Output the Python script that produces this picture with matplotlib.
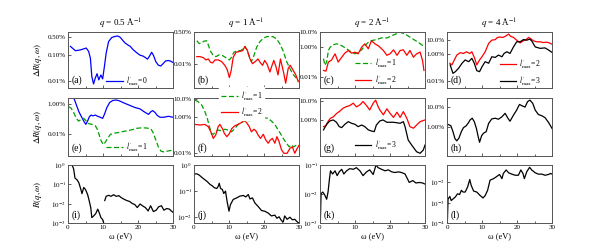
import matplotlib
matplotlib.use("Agg")
import matplotlib.pyplot as plt
from matplotlib.ticker import FixedLocator, NullLocator, MultipleLocator
import numpy as np

plt.rcParams['font.family'] = ['Liberation Serif', 'DejaVu Serif']
plt.rcParams['mathtext.fontset'] = 'stix'

# ---- data (omega in eV, Delta R in %, R absolute) ----
titles = ["0.5", "1", "2", "4"]

# (a) q=0.5, l'max=0
wa0 = [0.7, 2.1, 3.5, 5.2, 5.9, 6.4, 6.8, 7.3, 7.8, 8.3, 8.8, 9.4, 9.9, 10.4, 10.9, 11.6, 12.5, 13.5, 14.2,
       14.9, 15.7, 16.3, 17.1, 17.8, 18.5, 19.2, 19.8, 20.6, 21.4, 22.0, 22.7, 23.3, 23.9, 24.4, 25.1, 25.8,
       26.5, 27.3, 27.9, 28.7, 29.3, 30.0]
va0 = [0.22, 0.15, 0.16, 0.19, 0.14, 0.076, 0.015, 0.0076, 0.013, 0.019, 0.011, 0.017, 0.012, 0.036, 0.12,
       0.34, 0.49, 0.54, 0.56, 0.50, 0.37, 0.30, 0.25, 0.22, 0.17, 0.14, 0.12, 0.10, 0.093, 0.083, 0.070,
       0.093, 0.13, 0.10, 0.056, 0.041, 0.038, 0.049, 0.060, 0.062, 0.059, 0.052]

# (b) q=1
wb1 = [0.8, 1.5, 2.2, 2.8, 3.6, 4.1, 4.7, 5.5, 6.3, 7.2, 8.2, 9.1, 10.1, 10.7, 11.4, 12.3, 13.3, 14.1, 14.6,
       15.2, 15.8, 16.4, 17.1, 17.9, 18.8, 19.8, 20.7, 21.7, 22.6, 23.6, 24.5, 25.5, 26.4, 27.4, 28.3, 29.1, 29.8]
vb1 = [0.17, 0.12, 0.13, 0.16, 0.17, 0.10, 0.047, 0.028, 0.024, 0.030, 0.027, 0.021, 0.016, 0.022, 0.041,
       0.050, 0.050, 0.066, 0.085, 0.050, 0.024, 0.013, 0.027, 0.076, 0.15, 0.23, 0.28, 0.29, 0.28, 0.21,
       0.12, 0.047, 0.014, 0.0055, 0.0027, 0.0018, 0.0012]
wb2 = [0.8, 1.7, 2.7, 3.4, 4.1, 4.7, 5.3, 6.0, 6.9, 7.9, 8.8, 9.5, 10.1, 10.6, 11.2, 12.0, 12.9, 13.9, 14.5,
       15.2, 16.0, 16.7, 17.5, 18.3, 19.0, 19.6, 20.2, 20.9, 21.7, 22.2, 22.8, 23.4, 24.0, 24.7, 25.5, 26.2,
       26.9, 27.5, 28.3, 29.1, 29.8]
vb2 = [0.024, 0.024, 0.021, 0.016, 0.018, 0.012, 0.011, 0.016, 0.016, 0.013, 0.0082, 0.0048, 0.0018, 0.0041,
       0.022, 0.041, 0.045, 0.050, 0.081, 0.055, 0.018, 0.010, 0.013, 0.018, 0.011, 0.0082, 0.015, 0.0092,
       0.0036, 0.0072, 0.015, 0.0072, 0.0025, 0.018, 0.0041, 0.0009, 0.0055, 0.0082, 0.0045, 0.0025, 0.0011]

# (c) q=2
wc1 = [1.0, 1.4, 1.9, 2.4, 2.9, 3.8, 4.8, 6.2, 7.6, 9.0, 10.0, 10.9, 11.9, 12.8, 13.8, 14.7, 16.1, 17.6,
       19.1, 21.0, 22.9, 24.3, 26.2, 28.1, 30.0]
vc1 = [0.16, 0.057, 0.095, 0.57, 0.95, 1.4, 1.6, 1.2, 0.74, 0.44, 0.34, 0.44, 0.63, 1.2, 2.0, 2.6, 3.1, 4.0,
       4.0, 6.3, 9.5, 7.4, 3.8, 2.0, 0.96]
wc2 = [1.0, 1.7, 2.4, 3.3, 4.3, 5.2, 6.2, 7.1, 8.1, 9.0, 10.0, 10.9, 11.9, 12.8, 13.8, 14.7, 15.7, 16.6,
       17.1, 18.1, 19.1, 20.0, 21.0, 22.0, 22.9, 23.8, 24.8, 25.7, 26.7, 27.6, 28.6, 29.3, 29.7]
vc2 = [0.026, 0.023, 0.095, 0.13, 0.34, 0.095, 0.20, 0.38, 0.57, 0.38, 0.44, 0.34, 0.95, 1.6, 0.74, 2.6, 1.6,
       1.2, 0.95, 0.57, 0.27, 0.34, 0.63, 0.27, 0.57, 0.63, 0.27, 0.57, 0.20, 0.34, 0.44, 0.12, 0.026]

# (d) q=4
wd2 = [0.8, 1.4, 2.1, 2.8, 3.8, 4.7, 5.5, 6.5, 7.1, 7.9, 8.5, 9.3, 10.0, 10.9, 11.9, 12.8, 13.8, 14.4, 15.2,
       16.0, 16.6, 17.6, 18.2, 19.0, 19.9, 20.9, 21.8, 22.6, 23.3, 23.9, 24.7, 25.6, 26.6, 27.5, 28.5, 29.2, 30.0]
vd2 = [0.20, 0.15, 0.35, 0.8, 1.2, 1.05, 1.4, 1.05, 1.4, 0.46, 0.15, 0.35, 0.6, 1.4, 5.8, 10, 11, 16, 17,
       16, 19, 28, 19, 16, 10, 6.3, 8.9, 11, 16, 13, 8.9, 7.6, 7.6, 6.7, 7.1, 6.3, 5.1]
wd3 = [0.9, 1.7, 2.4, 3.3, 4.3, 5.2, 6.2, 7.1, 7.8, 8.5, 9.3, 10.0, 10.9, 11.9, 12.8, 13.8, 14.7, 15.7, 16.3,
       17.1, 18.0, 19.0, 19.9, 20.9, 21.8, 22.8, 23.6, 24.2, 25.2, 26.6, 28.0, 29.0, 30.0]
vd3 = [0.15, 0.036, 0.048, 0.085, 0.20, 0.35, 0.26, 0.46, 0.20, 0.057, 0.048, 0.11, 0.26, 0.20, 0.6, 0.54,
       0.8, 0.6, 1.05, 1.4, 1.05, 3.2, 7.6, 7.6, 11, 10, 12, 8.9, 3.2, 2.5, 2.7, 1.9, 1.26]

# (e) q=0.5
we0 = [0.0, 0.9, 1.6, 2.4, 3.1, 4.0, 4.7, 5.1, 5.6, 6.1, 6.6, 7.1, 7.8, 8.5, 9.2, 9.9, 10.4, 11.1, 11.9, 12.8,
       13.8, 14.7, 15.7, 16.6, 17.8, 19.2, 20.6, 21.7, 23.0, 23.7, 24.2, 24.9, 25.5, 26.3, 27.4, 28.7, 30.0]
ve0 = [9.5, 4.7, 2.5, 0.81, 0.30, 0.12, 0.061, 0.045, 0.074, 0.14, 0.18, 0.16, 0.18, 0.15, 0.13, 0.11, 0.20,
       0.55, 1.17, 1.6, 1.7, 1.5, 1.17, 0.96, 0.74, 0.55, 0.45, 0.30, 0.20, 0.30, 0.35, 0.26, 0.17, 0.13,
       0.13, 0.15, 0.13]
we1 = [0.2, 0.9, 1.6, 2.4, 3.0, 3.7, 4.5, 5.2, 5.9, 6.8, 7.8, 8.5, 9.0, 9.5, 10.1, 10.6, 11.3, 12.1, 13.0,
       14.2, 15.4, 16.8, 18.2, 19.7, 21.1, 22.5, 23.7, 24.4, 25.1, 25.8, 26.6, 27.4, 28.7, 30.0]
ve1 = [0.63, 0.50, 0.27, 0.11, 0.074, 0.091, 0.11, 0.074, 0.050, 0.045, 0.037, 0.019, 0.0082, 0.0037,
       0.0022, 0.0030, 0.0055, 0.010, 0.012, 0.013, 0.015, 0.017, 0.020, 0.025, 0.027, 0.026, 0.023, 0.012,
       0.0043, 0.0016, 0.00081, 0.00074, 0.00086, 0.00095]

# (f) q=1
wf1 = [0.3, 1.2, 2.2, 3.1, 3.8, 4.4, 5.0, 5.5, 6.2, 6.9, 7.9, 8.8, 9.8, 10.7, 11.7, 12.6, 13.6, 14.5, 15.5,
       16.4, 17.4, 18.8, 20.2, 21.2, 22.1, 23.1, 23.8, 24.5, 25.5, 26.4, 27.2, 27.8, 28.5, 29.3, 30.0]
vf1 = [8.7, 7.1, 4.7, 2.0, 0.85, 0.29, 0.12, 0.11, 0.15, 0.19, 0.17, 0.21, 0.19, 0.15, 0.23, 0.39, 0.50,
       0.60, 0.60, 0.68, 0.85, 0.91, 0.91, 0.85, 0.60, 0.39, 0.23, 0.14, 0.065, 0.035, 0.022, 0.028, 0.022,
       0.028, 0.026]
wf2 = [0.3, 1.7, 3.1, 4.1, 4.8, 5.5, 6.2, 6.9, 7.4, 8.1, 8.7, 9.4, 10.1, 10.8, 11.7, 12.6, 13.6, 14.2, 15.0,
       15.8, 16.4, 17.1, 17.7, 18.3, 19.0, 19.8, 20.5, 21.2, 21.8, 22.4, 23.1, 23.7, 24.3, 25.0, 25.7, 26.6,
       27.4, 28.1, 28.8, 29.4, 30.0]
vf2 = [0.39, 0.36, 0.39, 0.29, 0.15, 0.065, 0.10, 0.29, 0.39, 0.23, 0.12, 0.081, 0.12, 0.23, 0.33, 0.39,
       0.50, 0.68, 0.50, 0.29, 0.15, 0.21, 0.17, 0.10, 0.065, 0.11, 0.053, 0.035, 0.053, 0.065, 0.035, 0.081,
       0.043, 0.015, 0.0096, 0.0096, 0.018, 0.022, 0.0096, 0.017, 0.026]

# (g) q=2
wg2 = [1.0, 1.7, 2.4, 3.0, 3.8, 4.7, 5.7, 6.6, 7.6, 8.5, 9.5, 10.4, 11.4, 12.3, 13.3, 14.2, 15.2, 15.9, 16.6,
       17.1, 18.1, 19.1, 20.0, 21.0, 22.0, 22.9, 23.8, 24.8, 25.7, 26.7, 27.6, 28.6, 30.0]
vg2 = [0.47, 0.53, 0.93, 1.27, 1.5, 2.2, 3.0, 4.2, 5.1, 5.7, 7.6, 4.9, 6.2, 9.2, 5.7, 3.4, 7.6, 10.8, 5.1,
       3.4, 1.9, 3.9, 2.3, 1.4, 2.6, 1.4, 2.8, 1.27, 0.47, 0.39, 0.57, 0.85, 1.04]
wg3 = [1.0, 1.9, 2.8, 3.8, 4.7, 5.5, 6.2, 7.1, 8.1, 9.0, 10.0, 10.9, 11.9, 12.8, 13.8, 14.7, 15.5, 16.1, 17.1,
       18.0, 19.1, 21.0, 22.9, 23.8, 24.3, 25.2, 26.2, 27.6, 28.6, 29.5, 30.0]
vg3 = [0.32, 0.62, 0.92, 1.04, 0.79, 0.47, 0.42, 0.62, 0.85, 0.70, 0.62, 0.47, 0.57, 0.47, 0.32, 0.28, 0.26,
       0.57, 0.92, 1.04, 0.79, 0.79, 0.70, 0.85, 0.47, 0.096, 0.053, 0.024, 0.020, 0.029, 0.053]

# (h) q=4
wh3 = [0.3, 1.1, 1.7, 2.3, 2.8, 3.4, 4.1, 4.7, 5.5, 6.2, 6.6, 7.2, 7.8, 8.4, 8.8, 9.3, 9.9, 10.4, 11.2, 11.9,
       12.8, 13.8, 14.7, 15.7, 16.6, 17.4, 18.0, 19.0, 19.9, 20.7, 21.4, 22.3, 23.0, 23.7, 24.5, 25.2, 26.1,
       27.1, 28.0, 29.0, 30.0]
vh3 = [1.3, 1.12, 0.56, 0.24, 0.19, 0.26, 0.56, 0.89, 1.12, 1.66, 2.2, 2.7, 1.8, 0.82, 0.38, 0.16, 0.35, 0.46,
       0.56, 1.48, 2.5, 2.7, 2.4, 3.2, 4.8, 2.7, 1.9, 3.9, 7.0, 13.6, 11.7, 10, 18.7, 22.7, 15.4, 7.0, 4.2,
       3.6, 2.9, 1.66, 0.82]

# (i)-(l) R(q, omega)
wi = [0.2, 0.7, 1.2, 1.6, 2.0, 2.6, 3.1, 3.6, 4.0, 4.5, 5.0, 5.6, 6.1, 6.5, 6.8, 7.3, 7.9, 8.5, 8.9, 9.4, 9.9,
      10.2, 10.4, 10.5, 10.9, 11.6, 12.3, 13.0, 13.8, 14.5, 15.3, 16.0, 16.8, 17.6, 18.3, 19.1, 19.8, 20.6,
      21.4, 22.1, 22.9, 23.6, 24.4, 25.2, 25.9, 26.7, 27.4, 28.2, 29.0, 29.5, 30.0]
ri = [0.95, 1.0, 0.95, 0.64, 0.21, 0.17, 0.12, 0.061, 0.033, 0.069, 0.054, 0.030, 0.013, 0.0063, 0.0019,
      0.0023, 0.0030, 0.0052, 0.0035, 0.0019, 0.0015, 0.0010, np.nan, 0.0145, 0.024, 0.027, 0.024, 0.029,
      0.024, 0.026, 0.020, 0.017, 0.0145, 0.013, 0.0104, 0.0089, 0.0063, 0.0096, 0.0075, 0.0063, 0.0042,
      0.0078, 0.0039, 0.0046, 0.0069, 0.0078, 0.0046, 0.0056, 0.0052, 0.0042, 0.0036]
wj = [0.0, 0.8, 1.5, 2.3, 3.0, 3.8, 4.6, 5.2, 5.8, 6.5, 6.9, 7.2, 7.6, 8.1, 8.5, 9.0, 9.5, 10.0, 10.4, 11.2,
      12.2, 13.1, 14.1, 14.8, 15.5, 16.0, 16.7, 17.4, 18.3, 19.3, 20.2, 21.2, 22.1, 23.1, 23.7, 24.3, 25.0,
      25.5, 25.9, 26.6, 27.4, 28.1, 28.8, 29.4, 30.0]
rj = [0.45, 0.46, 0.41, 0.33, 0.28, 0.23, 0.18, 0.16, 0.135, 0.126, 0.15, 0.2, 0.126, 0.116, 0.081, 0.10,
      0.037, 0.017, 0.030, 0.048, 0.055, 0.064, 0.068, 0.060, 0.074, 0.050, 0.055, 0.035, 0.026, 0.018, 0.017,
      0.0144, 0.0112, 0.012, 0.0091, 0.0104, 0.0074, 0.0066, 0.0112, 0.0083, 0.010, 0.0080, 0.0083, 0.0068,
      0.0059]
wk = [0.1, 0.3, 0.8, 1.3, 1.9, 2.3, 2.7, 3.0, 3.6, 4.3, 4.9, 5.5, 6.2, 6.8, 7.6, 8.5, 9.5, 10.4, 11.4, 12.3,
      13.3, 14.2, 15.2, 16.0, 16.6, 17.6, 18.6, 19.5, 20.5, 21.4, 22.4, 23.3, 24.3, 24.8, 25.5, 26.5, 27.4,
      28.4, 29.3, 30.0]
rk = [0.001, 0.0103, 0.0117, 0.0095, 0.0066, 0.0117, 0.033, 0.063, 0.049, 0.063, 0.043, 0.058, 0.071, 0.049,
      0.063, 0.075, 0.071, 0.081, 0.063, 0.043, 0.058, 0.068, 0.047, 0.1, 0.081, 0.071, 0.063, 0.068, 0.058,
      0.055, 0.058, 0.055, 0.049, 0.037, 0.025, 0.029, 0.024, 0.025, 0.024, 0.022]
wl = [0.1, 0.3, 0.8, 1.2, 1.7, 2.4, 3.0, 3.6, 4.1, 4.6, 5.2, 5.9, 6.5, 6.9, 7.6, 8.5, 9.5, 10.3, 10.9, 11.6,
      12.3, 13.3, 14.1, 15.0, 15.7, 16.1, 16.9, 17.6, 18.5, 19.5, 20.4, 21.1, 21.7, 22.1, 22.8, 23.6, 24.2,
      25.2, 26.1, 27.1, 28.0, 29.0, 29.6, 30.0]
rl = [0.0001, 0.0015, 0.0020, 0.00126, 0.0015, 0.0019, 0.0027, 0.0025, 0.0040, 0.0033, 0.0033, 0.0059, 0.0136,
      0.0071, 0.0037, 0.0033, 0.0022, 0.0017, 0.0022, 0.0040, 0.0126, 0.015, 0.0185, 0.024, 0.015, 0.027,
      0.040, 0.029, 0.025, 0.022, 0.022, 0.040, 0.027, 0.015, 0.033, 0.054, 0.040, 0.029, 0.025, 0.025, 0.022,
      0.024, 0.027, 0.025]

blue = "#0000ff"
green = "#00a000"
red = "#ff0000"

lab0 = r"$l^{\prime}_{\rm max}$=0"
lab1 = r"$l^{\prime}_{\rm max}$=1"
lab2 = r"$l^{\prime}_{\rm max}$=2"
lab3 = r"$l^{\prime}_{\rm max}$=3"

W, H = 592, 248
fig = plt.figure(figsize=(W / 100, H / 100), dpi=100)

lefts = [68, 194, 320, 447]
tops = [32, 98, 165]
heights = [56, 58, 58]
aw = 105

axes = []
for r in range(3):
    row = []
    for c in range(4):
        ax = fig.add_axes([lefts[c] / W, 1 - (tops[r] + heights[r]) / H, aw / W, heights[r] / H])
        ax.set_yscale('log')
        ax.set_xlim(0, 30)
        ax.xaxis.set_major_locator(MultipleLocator(10))
        ax.xaxis.set_minor_locator(MultipleLocator(5))
        ax.yaxis.set_minor_locator(NullLocator())
        ax.tick_params(which='both', direction='in', labelsize=5, pad=1.5, width=0.6, color='#444444')
        ax.tick_params(which='major', length=2.5)
        ax.tick_params(which='minor', length=1.5)
        for s in ax.spines.values():
            s.set_linewidth(0.7)
            s.set_color('#555555')
        if r < 2:
            ax.tick_params(labelbottom=False)
        row.append(ax)
    axes.append(row)


def pct_ticks(ax, vals, labels, lim):
    ax.set_ylim(*lim)
    ax.yaxis.set_major_locator(FixedLocator(vals))
    ax.set_yticklabels(labels)


# --- row 1 ---
ax = axes[0][0]
ax.plot(wa0, va0, color=blue, lw=0.9, label=lab0)
pct_ticks(ax, [0.01, 0.1, 0.5], ["0.01%", "0.10%", "0.50%"], (0.0053, 0.8))
ax.legend(loc='center left', bbox_to_anchor=(0.36, 0.13), frameon=False, fontsize=5.5,
          handlelength=2.2, borderpad=0, borderaxespad=0, handletextpad=0.4)

ax = axes[0][1]
ax.plot(wb1, vb1, color=green, lw=0.9, ls=(0, (4, 2)))
ax.plot(wb2, vb2, color=red, lw=0.9)
pct_ticks(ax, [0.01, 0.5], ["0.01%", "0.50%"], (0.0005, 0.5))

ax = axes[0][2]
ax.plot(wc1, vc1, color=green, lw=0.9, ls=(0, (4, 2)), label=lab1)
ax.plot(wc2, vc2, color=red, lw=0.9, label=lab2)
pct_ticks(ax, [0.01, 1, 10], ["0.01%", "1.00%", "10.0%"], (0.0017, 10))
ax.legend(loc='center left', bbox_to_anchor=(0.33, 0.29), frameon=False, fontsize=5.5,
          handlelength=2.2, borderpad=0, borderaxespad=0, handletextpad=0.4, labelspacing=0.4)

ax = axes[0][3]
ax.plot(wd2, vd2, color=red, lw=0.9, label=lab2)
ax.plot(wd3, vd3, color='black', lw=0.9, label=lab3)
pct_ticks(ax, [0.01, 1, 10], ["0.01%", "1.00%", "10.0%"], (0.003, 40))
ax.legend(loc='center left', bbox_to_anchor=(0.5, 0.27), frameon=False, fontsize=5.5,
          handlelength=2.2, borderpad=0, borderaxespad=0, handletextpad=0.4, labelspacing=0.4)

# --- row 2 ---
ax = axes[1][0]
ax.plot(we0, ve0, color=blue, lw=0.9)
ax.plot(we1, ve1, color=green, lw=0.9, ls=(0, (4, 2)), label=lab1)
pct_ticks(ax, [0.01, 1], ["0.01%", "1.00%"], (0.0004, 2.3))
ax.legend(loc='center left', bbox_to_anchor=(0.36, 0.155), frameon=False, fontsize=5.5,
          handlelength=2.2, borderpad=0, borderaxespad=0, handletextpad=0.4)

ax = axes[1][1]
ax.plot(wf1, vf1, color=green, lw=0.9, ls=(0, (4, 2)), label=lab1)
ax.plot(wf2, vf2, color=red, lw=0.9, label=lab2)
pct_ticks(ax, [0.01, 1, 10], ["0.01%", "1.00%", "10.0%"], (0.0068, 11.5))
ax.legend(loc='center left', bbox_to_anchor=(0.24, 0.9), frameon=True, fontsize=5.5,
          handlelength=2.2, borderpad=0.2, borderaxespad=0, handletextpad=0.4, labelspacing=0.3,
          framealpha=1, edgecolor='white', fancybox=False)

ax = axes[1][2]
ax.plot(wg2, vg2, color=red, lw=0.9)
ax.plot(wg3, vg3, color='black', lw=0.9, label=lab3)
pct_ticks(ax, [1, 10], ["1.00%", "10.0%"], (0.0145, 14))
ax.legend(loc='center left', bbox_to_anchor=(0.33, 0.19), frameon=False, fontsize=5.5,
          handlelength=2.2, borderpad=0, borderaxespad=0, handletextpad=0.4)

ax = axes[1][3]
ax.plot(wh3, vh3, color='black', lw=0.9)
pct_ticks(ax, [1, 10], ["1.00%", "10.0%"], (0.032, 29))

# --- row 3 ---
def dec_ticks(ax, exps, lim):
    ax.set_ylim(*lim)
    ax.yaxis.set_major_locator(FixedLocator([10.0 ** e for e in exps]))
    ax.set_yticklabels([r"$10^{%d}$" % e for e in exps])


axes[2][0].plot(wi, ri, color='black', lw=0.9)
dec_ticks(axes[2][0], [-3, -2, -1, 0], (1e-3, 1.0))
axes[2][1].plot(wj, rj, color='black', lw=0.9)
dec_ticks(axes[2][1], [-2, -1, 0], (0.006, 1.0))
axes[2][2].plot(wk, rk, color='black', lw=0.9)
dec_ticks(axes[2][2], [-3, -2, -1], (1e-3, 0.1))
axes[2][3].plot(wl, rl, color='black', lw=0.9)
dec_ticks(axes[2][3], [-4, -3, -2], (1e-4, 0.07))

for c in range(4):
    axes[2][c].set_xlabel("ω (eV)", fontsize=6, labelpad=1.5)
    axes[0][c].set_title(r"$q$ = " + titles[c] + r" Å$^{-1}$", fontsize=6.5, pad=4)

letters = "abcdefghijkl"
for r in range(3):
    for c in range(4):
        axes[r][c].text(0.03, 0.06, "(" + letters[4 * r + c] + ")", transform=axes[r][c].transAxes,
                        fontsize=7, ha='left', va='bottom')

for r, lab in enumerate([r"$\Delta R(q,\omega)$", r"$\Delta R(q,\omega)$", r"$R(q,\omega)$"]):
    yc = 1 - (tops[r] + heights[r] / 2) / H
    fig.text(38 / W, yc, lab, rotation=90, fontsize=6.5, ha='center', va='center')

fig.savefig("out.png", dpi=100)
